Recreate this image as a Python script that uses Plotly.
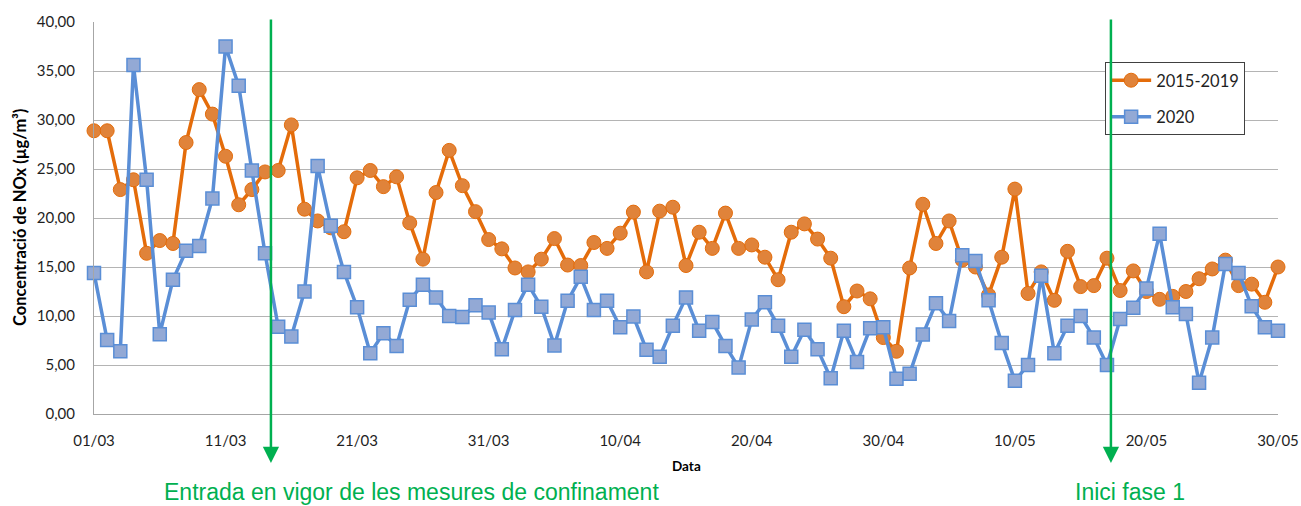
import pandas as pd
import plotly.graph_objects as go

dates = pd.date_range("2020-03-01", "2020-05-30", freq="D")
date_labels = [d.strftime("%d/%m") for d in dates]

nox_2015_2019 = [28.9, 28.9, 22.9, 23.9, 16.4, 17.7, 17.4, 27.7, 33.1, 30.6,
                 26.3, 21.35, 22.9, 24.7, 24.85, 29.5, 20.9, 19.7, 19.0, 18.6,
                 24.1, 24.85, 23.2, 24.2, 19.5, 15.8, 22.6, 26.9, 23.3, 20.65,
                 17.8, 16.85, 14.9, 14.5, 15.8, 17.9, 15.2, 15.15, 17.5, 16.9,
                 18.45, 20.6, 14.5, 20.7, 21.1, 15.15, 18.55, 16.9, 20.5, 16.9,
                 17.25, 16.0, 13.7, 18.55, 19.4, 17.85, 15.9, 10.95, 12.55, 11.75,
                 7.8, 6.4, 14.9, 21.4, 17.4, 19.7, 15.7, 15.0, 12.15, 16.0,
                 22.95, 12.3, 14.5, 11.6, 16.6, 13.0, 13.1, 15.9, 12.6, 14.6,
                 12.5, 11.7, 12.0, 12.5, 13.8, 14.8, 15.7, 13.1, 13.25, 11.4,
                 15.0]

nox_2020 = [14.4, 7.55, 6.4, 35.6, 23.9, 8.15, 13.7, 16.65, 17.15, 22.0,
            37.5, 33.5, 24.85, 16.4, 8.9, 7.9, 12.5, 25.3, 19.2, 14.5,
            10.9, 6.2, 8.25, 6.95, 11.65, 13.2, 11.9, 10.0, 9.9, 11.1,
            10.35, 6.6, 10.6, 13.2, 10.95, 7.0, 11.55, 14.0, 10.6, 11.55,
            8.85, 9.95, 6.55, 5.85, 9.0, 11.9, 8.5, 9.4, 6.95, 4.75,
            9.65, 11.4, 9.0, 5.85, 8.6, 6.6, 3.65, 8.5, 5.3, 8.75,
            8.85, 3.6, 4.1, 8.1, 11.3, 9.5, 16.2, 15.6, 11.6, 7.25,
            3.4, 5.0, 14.1, 6.2, 9.0, 10.0, 7.8, 5.0, 9.7, 10.85,
            12.8, 18.4, 10.9, 10.2, 3.2, 7.8, 15.3, 14.4, 11.0, 8.85,
            8.5]

tick_labels = date_labels[::10]
y_ticks = [0, 5, 10, 15, 20, 25, 30, 35, 40]

x_idx = list(range(len(date_labels)))

# event positions (fractional day index)
lockdown_pos = 13.45
phase1_pos = 77.3

ORANGE_LINE = "#E46C0A"
ORANGE_FILL = "#E0833A"
BLUE_LINE = "#5A8ED6"
BLUE_FILL = "#93A9D5"
GREEN = "#00B050"

fig = go.Figure()
fig.add_trace(go.Scatter(
    x=x_idx, y=nox_2015_2019, name="2015-2019", mode="lines+markers",
    line=dict(color=ORANGE_LINE, width=3.5),
    marker=dict(symbol="circle", size=14, color=ORANGE_FILL,
                line=dict(color=ORANGE_LINE, width=1)),
    cliponaxis=False, legendgroup="a", customdata=date_labels,
))
fig.add_trace(go.Scatter(
    x=x_idx, y=nox_2020, name="2020", mode="lines+markers",
    line=dict(color=BLUE_LINE, width=3.5),
    marker=dict(symbol="square", size=13, color=BLUE_FILL,
                line=dict(color=BLUE_LINE, width=1.5)),
    cliponaxis=False, legendgroup="b", customdata=date_labels,
))

tick_font = dict(family="Lato, Open Sans, sans-serif", size=15, color="#1F1F1F")

fig.update_layout(
    width=1301, height=506,
    margin=dict(l=94, r=23, t=22, b=92),
    paper_bgcolor="white", plot_bgcolor="white",
    separators=",.",
    showlegend=True,
    legend=dict(
        x=0.854, y=0.898, xanchor="left", yanchor="top",
        bgcolor="white", bordercolor="#404040", borderwidth=1,
        font=dict(family="Lato, Open Sans, sans-serif", size=16.5, color="#1F1F1F"),
        tracegroupgap=12, itemwidth=40,
    ),
    xaxis=dict(
        range=[0, 90], tickmode="array",
        tickvals=x_idx[::10], ticktext=tick_labels,
        showgrid=False, zeroline=False, automargin=False,
        showline=True, linecolor="#A6A6A6", linewidth=1,
        ticks="outside", ticklen=0, ticklabelstandoff=13,
        tickfont=tick_font,
    ),
    yaxis=dict(
        range=[0, 40], tickmode="array", tickvals=y_ticks,
        tickformat=".2f",
        showgrid=True, gridcolor="#B4B4B4", gridwidth=1,
        zeroline=False, automargin=False,
        showline=True, linecolor="#A6A6A6", linewidth=1,
        ticks="outside", ticklen=0, ticklabelstandoff=15,
        tickfont=tick_font,
    ),
)

# axis titles
fig.add_annotation(text="<b>Data</b>", xref="paper", yref="paper",
                   x=0.5, y=-0.133, showarrow=False, xanchor="center", yanchor="middle",
                   font=dict(family="Lato, Open Sans, sans-serif", size=13.5, color="#000000"))
fig.add_annotation(text="<b>Concentració de NOx (µg/m³)</b>", xref="paper", yref="paper",
                   x=-0.0625, y=0.5, textangle=-90, showarrow=False,
                   xanchor="center", yanchor="middle",
                   font=dict(family="Lato, Open Sans, sans-serif", size=16.5, color="#000000"))

# event arrows
for pos in (lockdown_pos, phase1_pos):
    fig.add_annotation(x=pos, y=-0.125, xref="x", yref="paper", text="",
                       showarrow=True, ax=0, ay=-445, axref="pixel", ayref="pixel",
                       arrowhead=2, arrowsize=1.3, arrowwidth=2.5, arrowcolor=GREEN,
                       standoff=0)

fig.add_annotation(text="Entrada en vigor de les mesures de confinament",
                   xref="paper", yref="paper", x=0.268, y=-0.2, showarrow=False,
                   xanchor="center", yanchor="middle",
                   font=dict(family="Liberation Sans, Arial, sans-serif", size=23, color=GREEN))
fig.add_annotation(text="Inici fase 1",
                   xref="paper", yref="paper", x=0.8746, y=-0.2, showarrow=False,
                   xanchor="center", yanchor="middle",
                   font=dict(family="Liberation Sans, Arial, sans-serif", size=23, color=GREEN))

# remove the default 8px page margin so the figure fills the window exactly
fig.write_html(
    "out.html",
    config={"displayModeBar": False},
    post_script="document.body.style.margin='0px';document.body.style.overflow='hidden';",
)
